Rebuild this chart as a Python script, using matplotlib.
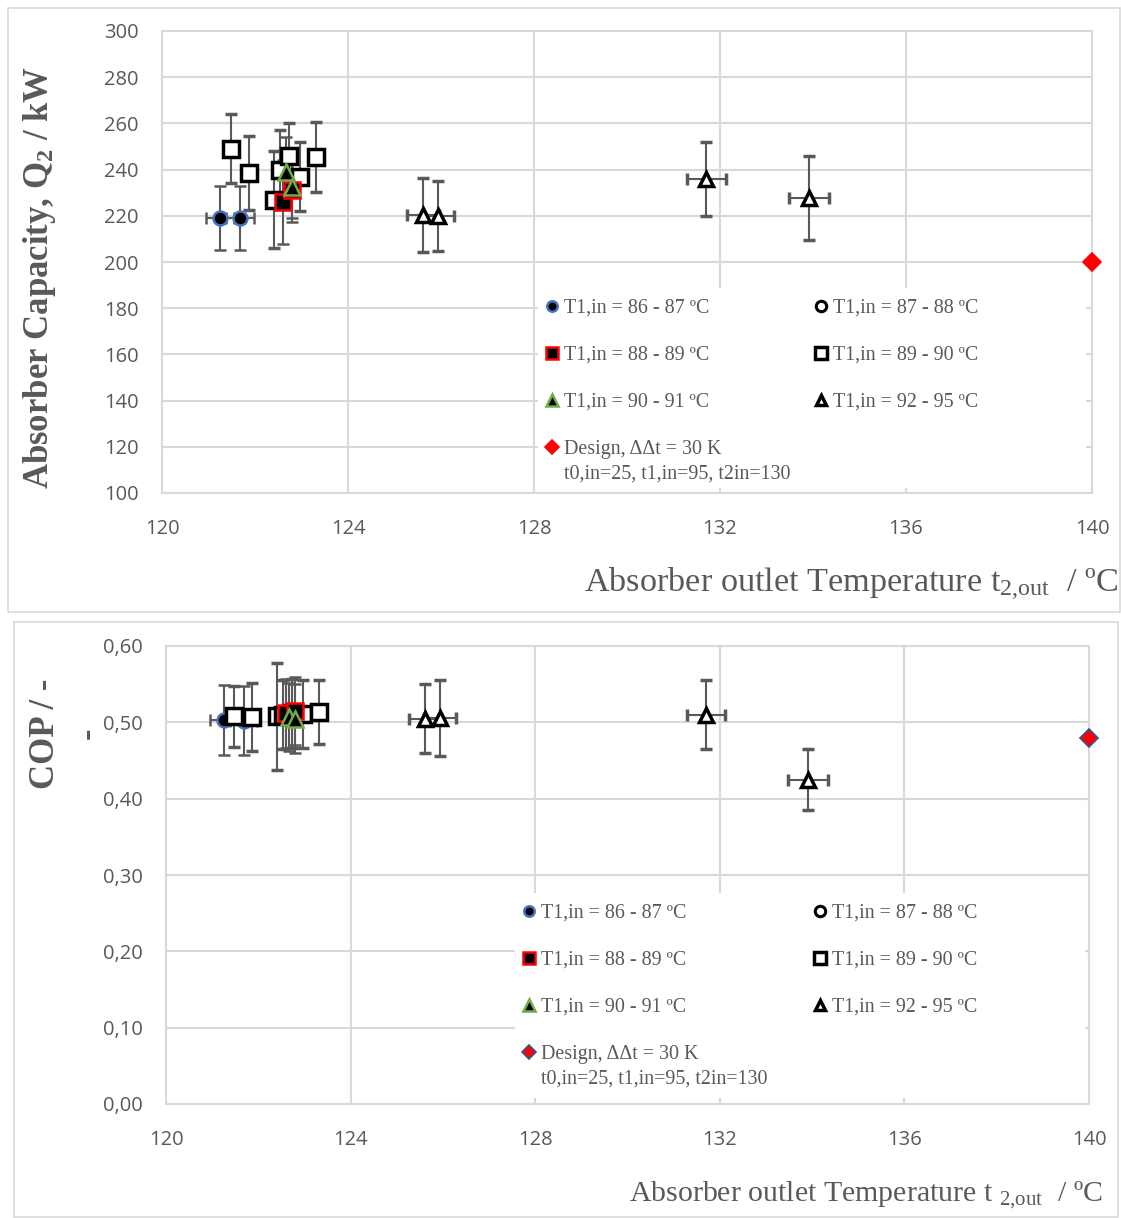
import numpy as np
import matplotlib
matplotlib.use('Agg')
import matplotlib.pyplot as plt
from matplotlib.patches import Rectangle
from matplotlib.lines import Line2D

# --- Data ---
# T1,in = 86 - 87 C
c86_t = [121.25, 121.68]
c86_q = [219.0, 219.0]
c86_qe = [14, 14]
c86_cop = [0.503, 0.502]
c86_cope = [0.046, 0.045]
c86_te = [0.3, 0.3]

# T1,in = 88 - 89 C
c88_t = [122.6, 122.8]
c88_q = [226.0, 231.0]
c88_qe = [18, 12]
c88_cop = [0.512, 0.515]
c88_cope = [0.045, 0.045]
c88_te = [0.15, 0.15]

# T1,in = 89 - 90 C
c89_t = [121.48, 121.87, 122.41, 122.54, 122.73, 122.97, 123.31]
c89_q = [249.0, 238.5, 227.0, 240.0, 246.0, 237.0, 245.5]
c89_qe = [15, 16, 21, 17, 14, 15, 15]
c89_cop = [0.508, 0.507, 0.508, 0.510, 0.512, 0.511, 0.514]
c89_cope = [0.040, 0.045, 0.070, 0.045, 0.045, 0.045, 0.042]
c89_te = [0.12, 0.12, 0.12, 0.12, 0.12, 0.12, 0.15]

# T1,in = 90 - 91 C
c90_t = [122.67, 122.8]
c90_q = [239.0, 232.5]
c90_qe = [15, 15]
c90_cop = [0.507, 0.505]
c90_cope = [0.045, 0.045]
c90_te = [0.12, 0.12]

# T1,in = 92 - 95 C
c92_t = [125.61, 125.94, 131.70, 133.91]
c92_q = [220.3, 219.9, 236.0, 227.7]
c92_qe = [16, 15, 16, 18]
c92_cop = [0.505, 0.506, 0.510, 0.425]
c92_cope = [0.045, 0.050, 0.045, 0.040]
c92_te = [0.35, 0.35, 0.42, 0.43]

# design point
design_t = [140.0]
design_q = [200.0]
design_cop = [0.48]

x_ticks = [120, 124, 128, 132, 136, 140]
q_ticks = [100, 120, 140, 160, 180, 200, 220, 240, 260, 280, 300]
cop_ticks = [0.0, 0.1, 0.2, 0.3, 0.4, 0.5, 0.6]
cop_ticklabels = ['0,00', '0,10', '0,20', '0,30', '0,40', '0,50', '0,60']

labels = ['T1,in = 86 - 87 ºC', 'T1,in = 87 - 88 ºC', 'T1,in = 88 - 89 ºC',
          'T1,in = 89 - 90 ºC', 'T1,in = 90 - 91 ºC', 'T1,in = 92 - 95 ºC',
          'Design, ΔΔt = 30 K']
design_note = 't0,in=25, t1,in=95, t2in=130'

# --- Style ---
plt.rcParams['mathtext.fontset'] = 'custom'
plt.rcParams['mathtext.rm'] = 'Liberation Serif'
plt.rcParams['mathtext.it'] = 'Liberation Serif:italic'
plt.rcParams['mathtext.bf'] = 'Liberation Serif:bold'

GRAY = '#595959'
GRID = '#D9D9D9'
SERIF = 'Liberation Serif'

fig = plt.figure(figsize=(11.21, 12.18), dpi=100)
W, H = 1121, 1218

# panel frames
for (x0, y0, x1, y1) in [(8, 8, 1120, 612), (14, 622, 1118, 1217)]:
    fig.patches.append(Rectangle((x0 / W, 1 - y1 / H), (x1 - x0) / W, (y1 - y0) / H,
                                 transform=fig.transFigure, fill=False,
                                 edgecolor=GRID, lw=1.2))

ax1 = fig.add_axes([162 / W, 1 - 493 / H, 930 / W, 462 / H])
ax2 = fig.add_axes([166 / W, 1 - 1104 / H, 923 / W, 458 / H])

eb = dict(ecolor=GRAY, elinewidth=1.5, capsize=4, capthick=1.3, linestyle='none')
styles = [
    dict(marker='o', mfc='black', mec='#4472C4', ms=10, mew=1.8),
    dict(marker='o', mfc='white', mec='black', ms=10, mew=2.2),
    dict(marker='s', mfc='black', mec='#FF0000', ms=11, mew=1.8),
    dict(marker='s', mfc='white', mec='black', ms=11, mew=2.5),
    dict(marker='^', mfc='black', mec='#70AD47', ms=11, mew=1.8),
    dict(marker='^', mfc='white', mec='black', ms=10, mew=2.5),
]


def draw(ax, ys, design_y, design_edge):
    series = [
        (c86_t, ys[0], c86_te, 0),
        (c89_t, ys[3], c89_te, 3),
        (c88_t, ys[1], c88_te, 2),
        (c90_t, ys[2], c90_te, 4),
        (c92_t, ys[4], c92_te, 5),
    ]
    for t, (y, ye), te, k in series:
        ax.errorbar(t, y, yerr=ye, xerr=te, zorder=3, **eb, **styles[k])
    ax.plot(design_t, design_y, linestyle='none', marker='D', mfc='#FF0000',
            mec=design_edge, ms=9, mew=1.2, zorder=4, clip_on=False)

    handles = [Line2D([], [], linestyle='none', **styles[k]) for k in range(6)]
    handles.append(Line2D([], [], linestyle='none', marker='D', mfc='#FF0000',
                          mec=design_edge, ms=9, mew=1.2))
    order = [0, 2, 4, 6, 1, 3, 5]
    return [handles[i] for i in order], [labels[i] for i in order]


def style_axes(ax):
    ax.set_xlim(120, 140)
    ax.set_xticks(x_ticks)
    ax.grid(True, color=GRID, lw=1.5, zorder=0)
    ax.set_axisbelow(True)
    for s in ax.spines.values():
        s.set_color(GRID)
        s.set_linewidth(1.5)
    ax.tick_params(axis='both', length=0, labelcolor=GRAY, labelsize=14.5)
    ax.tick_params(axis='x', pad=19)
    ax.tick_params(axis='y', pad=17)
    for lab in ax.get_xticklabels() + ax.get_yticklabels():
        lab.set_family('Open Sans')


def add_legend(ax, h, l, anchor, colspace, box):
    # white legend area hides the gridlines, as in the spreadsheet chart
    x0, y0, x1, y1 = box
    ax.add_patch(Rectangle((x0, y0), x1 - x0, y1 - y0, transform=ax.transAxes,
                           facecolor='white', edgecolor='none', zorder=1))
    leg = ax.legend(h, l, ncol=2, loc='upper left', bbox_to_anchor=anchor,
                    frameon=False, prop={'family': SERIF, 'size': 14.4},
                    markerscale=0.75, handlelength=0.6, handletextpad=0.3,
                    columnspacing=colspace, labelspacing=1.4, borderaxespad=0,
                    borderpad=0.4)
    for t in leg.get_texts():
        t.set_color(GRAY)
    return leg


def add_note(leg):
    # second line of the design entry, placed under its label
    fig.canvas.draw()
    bb = leg.get_texts()[3].get_window_extent()
    x, y = fig.transFigure.inverted().transform((bb.x0, bb.y0))
    fig.text(x, y - 6 / H, design_note, ha='left', va='top', family=SERIF,
             fontsize=14.4, color=GRAY)


# --- Top: absorber capacity ---
h, l = draw(ax1, [(c86_q, c86_qe), (c88_q, c88_qe), (c90_q, c90_qe),
                  (c89_q, c89_qe), (c92_q, c92_qe)], design_q, '#FF0000')
ax1.set_ylim(100, 300)
ax1.set_yticks(q_ticks)
style_axes(ax1)
leg1 = add_legend(ax1, h, l, (0.404, 0.438), 4.7, (0.404, 0.011, 0.9935, 0.444))

fig.text(40 / W, 1 - 277 / H, r'Absorber Capacity, Q$_\mathbf{2}$ / kW', rotation=90,
         ha='center', va='center', family=SERIF, fontsize=25, fontweight='bold',
         color=GRAY)
fig.text(1118 / W, 1 - 584 / H, r'Absorber outlet Temperature t$_{2{,}\mathrm{out}}$  / ºC',
         ha='right', va='center', family=SERIF, fontsize=24.7, color=GRAY)

# --- Bottom: COP ---
h, l = draw(ax2, [(c86_cop, c86_cope), (c88_cop, c88_cope), (c90_cop, c90_cope),
                  (c89_cop, c89_cope), (c92_cop, c92_cope)], design_cop, '#2F5597')
ax2.set_ylim(0, 0.6)
ax2.set_yticks(cop_ticks)
ax2.set_yticklabels(cop_ticklabels)
style_axes(ax2)
leg2 = add_legend(ax2, h, l, (0.378, 0.455), 5.8, (0.378, 0.013, 0.9957, 0.461))

fig.text(45 / W, 1 - 734 / H, 'COP / -', rotation=90, ha='center', va='center',
         family=SERIF, fontsize=25, fontweight='bold', color=GRAY)
fig.text(88 / W, 1 - 733 / H, '-', rotation=90, ha='center', va='center',
         family=SERIF, fontsize=25, fontweight='bold', color=GRAY)
fig.text(1103 / W, 1 - 1195 / H, r'Absorber outlet Temperature t $_{2{,}\mathrm{out}}$  / ºC',
         ha='right', va='center', family=SERIF, fontsize=21.5, color=GRAY)

add_note(leg1)
add_note(leg2)

fig.savefig('out.png', dpi=100)
